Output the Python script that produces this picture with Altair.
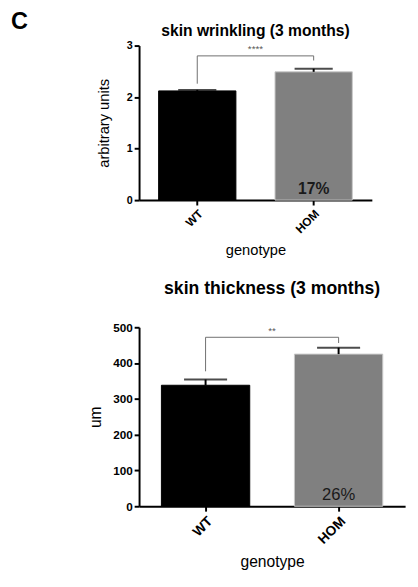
import altair as alt
import pandas as pd

FONT = "Liberation Sans"

genotype = ["WT", "HOM"]
bar_colors = ["#000000", "#808080"]
bar_edges = ["#000000", "#c8c8c8"]

wrinkling_mean = [2.12, 2.49]
wrinkling_sem = [0.02, 0.06]
wrinkling_bracket = [2.26, 2.80, 2.80, 2.71]
wrinkling_stars_y = 2.93
wrinkling_stars = "****"
wrinkling_pct = "17%"

thickness_mean = [338, 425]
thickness_sem = [16, 18]
thickness_bracket = [377, 472, 472, 456]
thickness_stars_y = 488
thickness_stars = "**"
thickness_pct = "26%"

bracket_x = ["WT", "WT", "HOM", "HOM"]


def panel(title, title_size, title_offset, ytitle, ydomain, yticks, means, sems,
          bracket, stars_y, stars, pct, pct_size, pct_weight, width, height, cap,
          lab_size, xlab_size, axtitle_size, ytitle_pad, xtitle_pad):
    df = pd.DataFrame({"genotype": genotype, "mean": means,
                       "top": [m + s for m, s in zip(means, sems)]})
    br = pd.DataFrame({"genotype": bracket_x, "y": bracket, "o": [0, 1, 2, 3]})
    pct_df = pd.DataFrame({"genotype": [genotype[1]], "label": [pct], "base": [ydomain[0]]})
    star_df = pd.DataFrame({"label": [stars], "y": [stars_y]})

    xaxis = alt.Axis(title="genotype", labelAngle=-45, labelFontSize=xlab_size,
                     labelFontWeight="bold", titleFontSize=axtitle_size,
                     titleFontWeight="normal", titlePadding=xtitle_pad, labelPadding=3)
    xscale = alt.Scale(paddingInner=0.336, paddingOuter=0.168)
    yscale = alt.Scale(domain=ydomain, nice=False)
    yaxis = alt.Axis(title=ytitle, values=yticks, labelFontSize=lab_size,
                     labelFontWeight="bold", titleFontSize=axtitle_size,
                     titleFontWeight="normal", titlePadding=ytitle_pad, labelPadding=2,
                     labelOverlap=False, tickCount=len(yticks))

    def X():
        return alt.X("genotype:N", sort=genotype, scale=xscale, axis=xaxis)

    def Y(field):
        return alt.Y(field, scale=yscale, axis=yaxis)

    bars = alt.Chart(df).mark_bar(strokeWidth=1).encode(
        x=X(),
        y=Y("mean:Q"),
        color=alt.Color("genotype:N", sort=genotype,
                        scale=alt.Scale(domain=genotype, range=bar_colors), legend=None),
        stroke=alt.Stroke("genotype:N", sort=genotype,
                          scale=alt.Scale(domain=genotype, range=bar_edges), legend=None),
    )
    stem = alt.Chart(df).mark_rule(color="black", strokeWidth=2).encode(
        x=X(), y=Y("mean:Q"), y2="top:Q")
    caps = alt.Chart(df).mark_tick(color="black", thickness=2, size=cap).encode(
        x=X(), y=Y("top:Q"))
    brk = alt.Chart(br).mark_line(color="#6e6e6e", strokeWidth=1).encode(
        x=X(), y=Y("y:Q"), order="o:Q")
    st = alt.Chart(star_df).mark_text(font=FONT, fontSize=10, color="#555555",
                                      baseline="middle").encode(
        x=alt.value(width / 2), y=Y("y:Q"), text="label:N")
    pt = alt.Chart(pct_df).mark_text(font=FONT, fontSize=pct_size, fontWeight=pct_weight,
                                     color="#1a1a1a", baseline="alphabetic", dy=-6).encode(
        x=X(), y=Y("base:Q"), text="label:N")

    return alt.layer(bars, stem, caps, brk, st, pt).properties(
        width=width, height=height,
        title=alt.TitleParams(title, fontSize=title_size, font=FONT, fontWeight="bold",
                              offset=title_offset, color="black"))


top = panel("skin wrinkling (3 months)", 16, 1, "arbitrary units", [0, 3], [0, 1, 2, 3],
            wrinkling_mean, wrinkling_sem, wrinkling_bracket, wrinkling_stars_y,
            wrinkling_stars, wrinkling_pct, 16, "bold", 238, 158, 39,
            11, 12, 15, 15, 8)
bottom = panel("skin thickness (3 months)", 18, 24, "um", [0, 500],
               [0, 100, 200, 300, 400, 500],
               thickness_mean, thickness_sem, thickness_bracket, thickness_stars_y,
               thickness_stars, thickness_pct, 17, "normal", 272, 183, 44,
               12, 14, 16, 9, 8)

chart = alt.vconcat(top, bottom, spacing=23).properties(
    title=alt.TitleParams("C", anchor="start", fontSize=24, font=FONT, fontWeight="bold",
                          dx=-79, dy=15, color="black"),
    padding={"left": 2, "top": -4, "right": 5, "bottom": 5},
).configure_view(stroke=None).configure_axis(
    labelFont=FONT, titleFont=FONT, labelColor="black", titleColor="black",
    domainColor="black", domainWidth=2, tickColor="black", tickWidth=2, tickSize=5,
    grid=False,
)

chart.save("out.html", embed_options={"renderer": "svg", "actions": False})
